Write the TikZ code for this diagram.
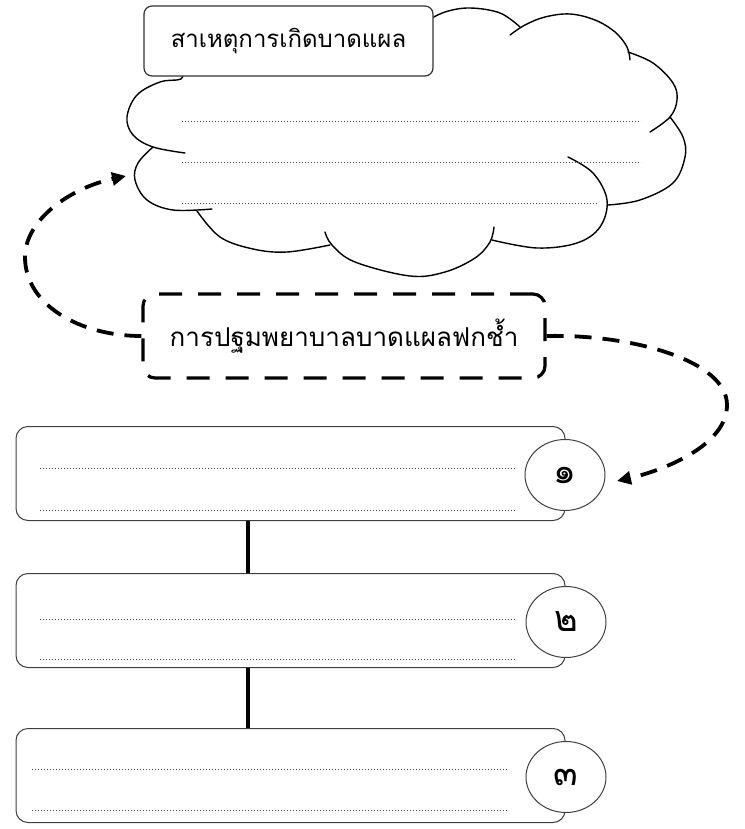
\documentclass[tikz,border=0pt]{standalone}
\usepackage{fontspec}
\newfontfamily\thaifont[Script=Thai]{Loma}
\usetikzlibrary{shapes.geometric,arrows.meta}
\begin{document}
\begin{tikzpicture}[x=1pt,y=-1pt,
  cloudline/.style={line width=1.4pt, draw=black, line cap=round},
  titlebox/.style={draw=black!80, line width=1.2pt, rounded corners=8pt, fill=white, inner sep=0pt,
    minimum width=289pt, minimum height=70pt, font=\thaifont\fontsize{24}{28}\selectfont},
  dashbox/.style={draw=black, line width=3.2pt, dash pattern=on 23pt off 16pt, rounded corners=12pt,
    inner sep=0pt, minimum width=402pt, minimum height=84pt, font=\thaifont\fontsize{26}{32}\selectfont},
  listbox/.style={draw=black!75, line width=1pt, rounded corners=12pt, fill=white,
    minimum width=549pt, minimum height=94pt, inner sep=0pt},
  numell/.style={ellipse, draw=black!75, line width=1pt, fill=white, minimum width=80pt,
    minimum height=71pt, inner sep=0pt, font=\thaifont\fontsize{36}{40}\selectfont},
  dotline/.style={line width=1pt, draw=black!70, dash pattern=on 1pt off 2pt},
  flow/.style={line width=3.8pt, dash pattern=on 17pt off 11pt, -{Triangle[length=14pt,width=13pt]}},
  stem/.style={line width=4pt}
]
\useasboundingbox (0,0) rectangle (744,829);
% cloud
\draw[cloudline] plot[smooth,tension=0.6] coordinates {(182,70) (181,79) (160,82) (137,95) (127,117) (133,135) (153,147) (185,153)};
\draw[cloudline] plot[smooth,tension=0.6] coordinates {(153,147) (138,163) (135,180) (147,200) (173,210) (212,209)};
\draw[cloudline] plot[smooth,tension=0.6] coordinates {(197,211) (220,237) (253,249) (287,252) (330,245)};
\draw[cloudline] plot[smooth,tension=0.6] coordinates {(325,232) (332,245) (355,262) (410,276) (445,272) (475,258) (490,242) (494,227)};
\draw[cloudline] plot[smooth,tension=0.6] coordinates {(568,157) (593,173) (607,200) (600,227) (577,243) (537,248) (492,240)};
\draw[cloudline] plot[smooth,tension=0.6] coordinates {(670,117) (683,137) (685,157) (673,183) (640,200) (608,205)};
\draw[cloudline] plot[smooth,tension=0.6] coordinates {(628,52) (653,63) (673,83) (677,100) (670,117) (650,132)};
\draw[cloudline] plot[smooth,tension=0.6] coordinates {(510,35) (525,25) (545,17) (570,14) (595,20) (615,32) (627,47) (630,60)};
\draw[cloudline] plot[smooth,tension=0.6] coordinates {(425,22) (445,12) (470,8) (500,13) (520,27)};
\draw[dotline] (182,122) -- (641,122);
\draw[dotline] (182,163) -- (641,163);
\draw[dotline] (182,203) -- (598,203);
\node[titlebox] (title) at (288.5,41) {\raisebox{-3pt}{สาเหตุการเกิดบาดแผล}};
\coordinate (cL) at (126,176);
% first-aid box
\node[dashbox] (dbox) at (344,336) {\raisebox{-5pt}{การปฐมพยาบาลบาดแผลฟกช้ำ}};
% list boxes
\node[listbox] (b1) at (290.5,473.5) {};
\node[listbox] (b2) at (290.5,620.5) {};
\node[listbox] (b3) at (290.5,775.5) {};
\draw[dotline] (40,468) -- (515,468);
\draw[dotline] (40,510) -- (515,510);
\draw[dotline] (40,619) -- (515,619);
\draw[dotline] (40,659) -- (515,659);
\draw[dotline] (32,769) -- (507,769);
\draw[dotline] (32,810) -- (507,810);
\node[numell] (e1) at (565,475) {๑};
\node[numell] (e2) at (566,622) {๒};
\node[numell] (e3) at (566,777) {๓};
\coordinate (cR) at (617,481);
\coordinate (vx) at (248,0);
\draw[stem] (b1.south -| vx) -- (b2.north -| vx);
\draw[stem] (b2.south -| vx) -- (b3.north -| vx);
% connectors
\draw[flow] (dbox.west) .. controls (80,336) and (25,305) .. (25,257) .. controls (25,220) and (70,188) .. (cL);
\draw[flow] (dbox.east) .. controls (630,334) and (727,360) .. (727,405) .. controls (727,445) and (665,470) .. (cR);
\end{tikzpicture}
\end{document}
